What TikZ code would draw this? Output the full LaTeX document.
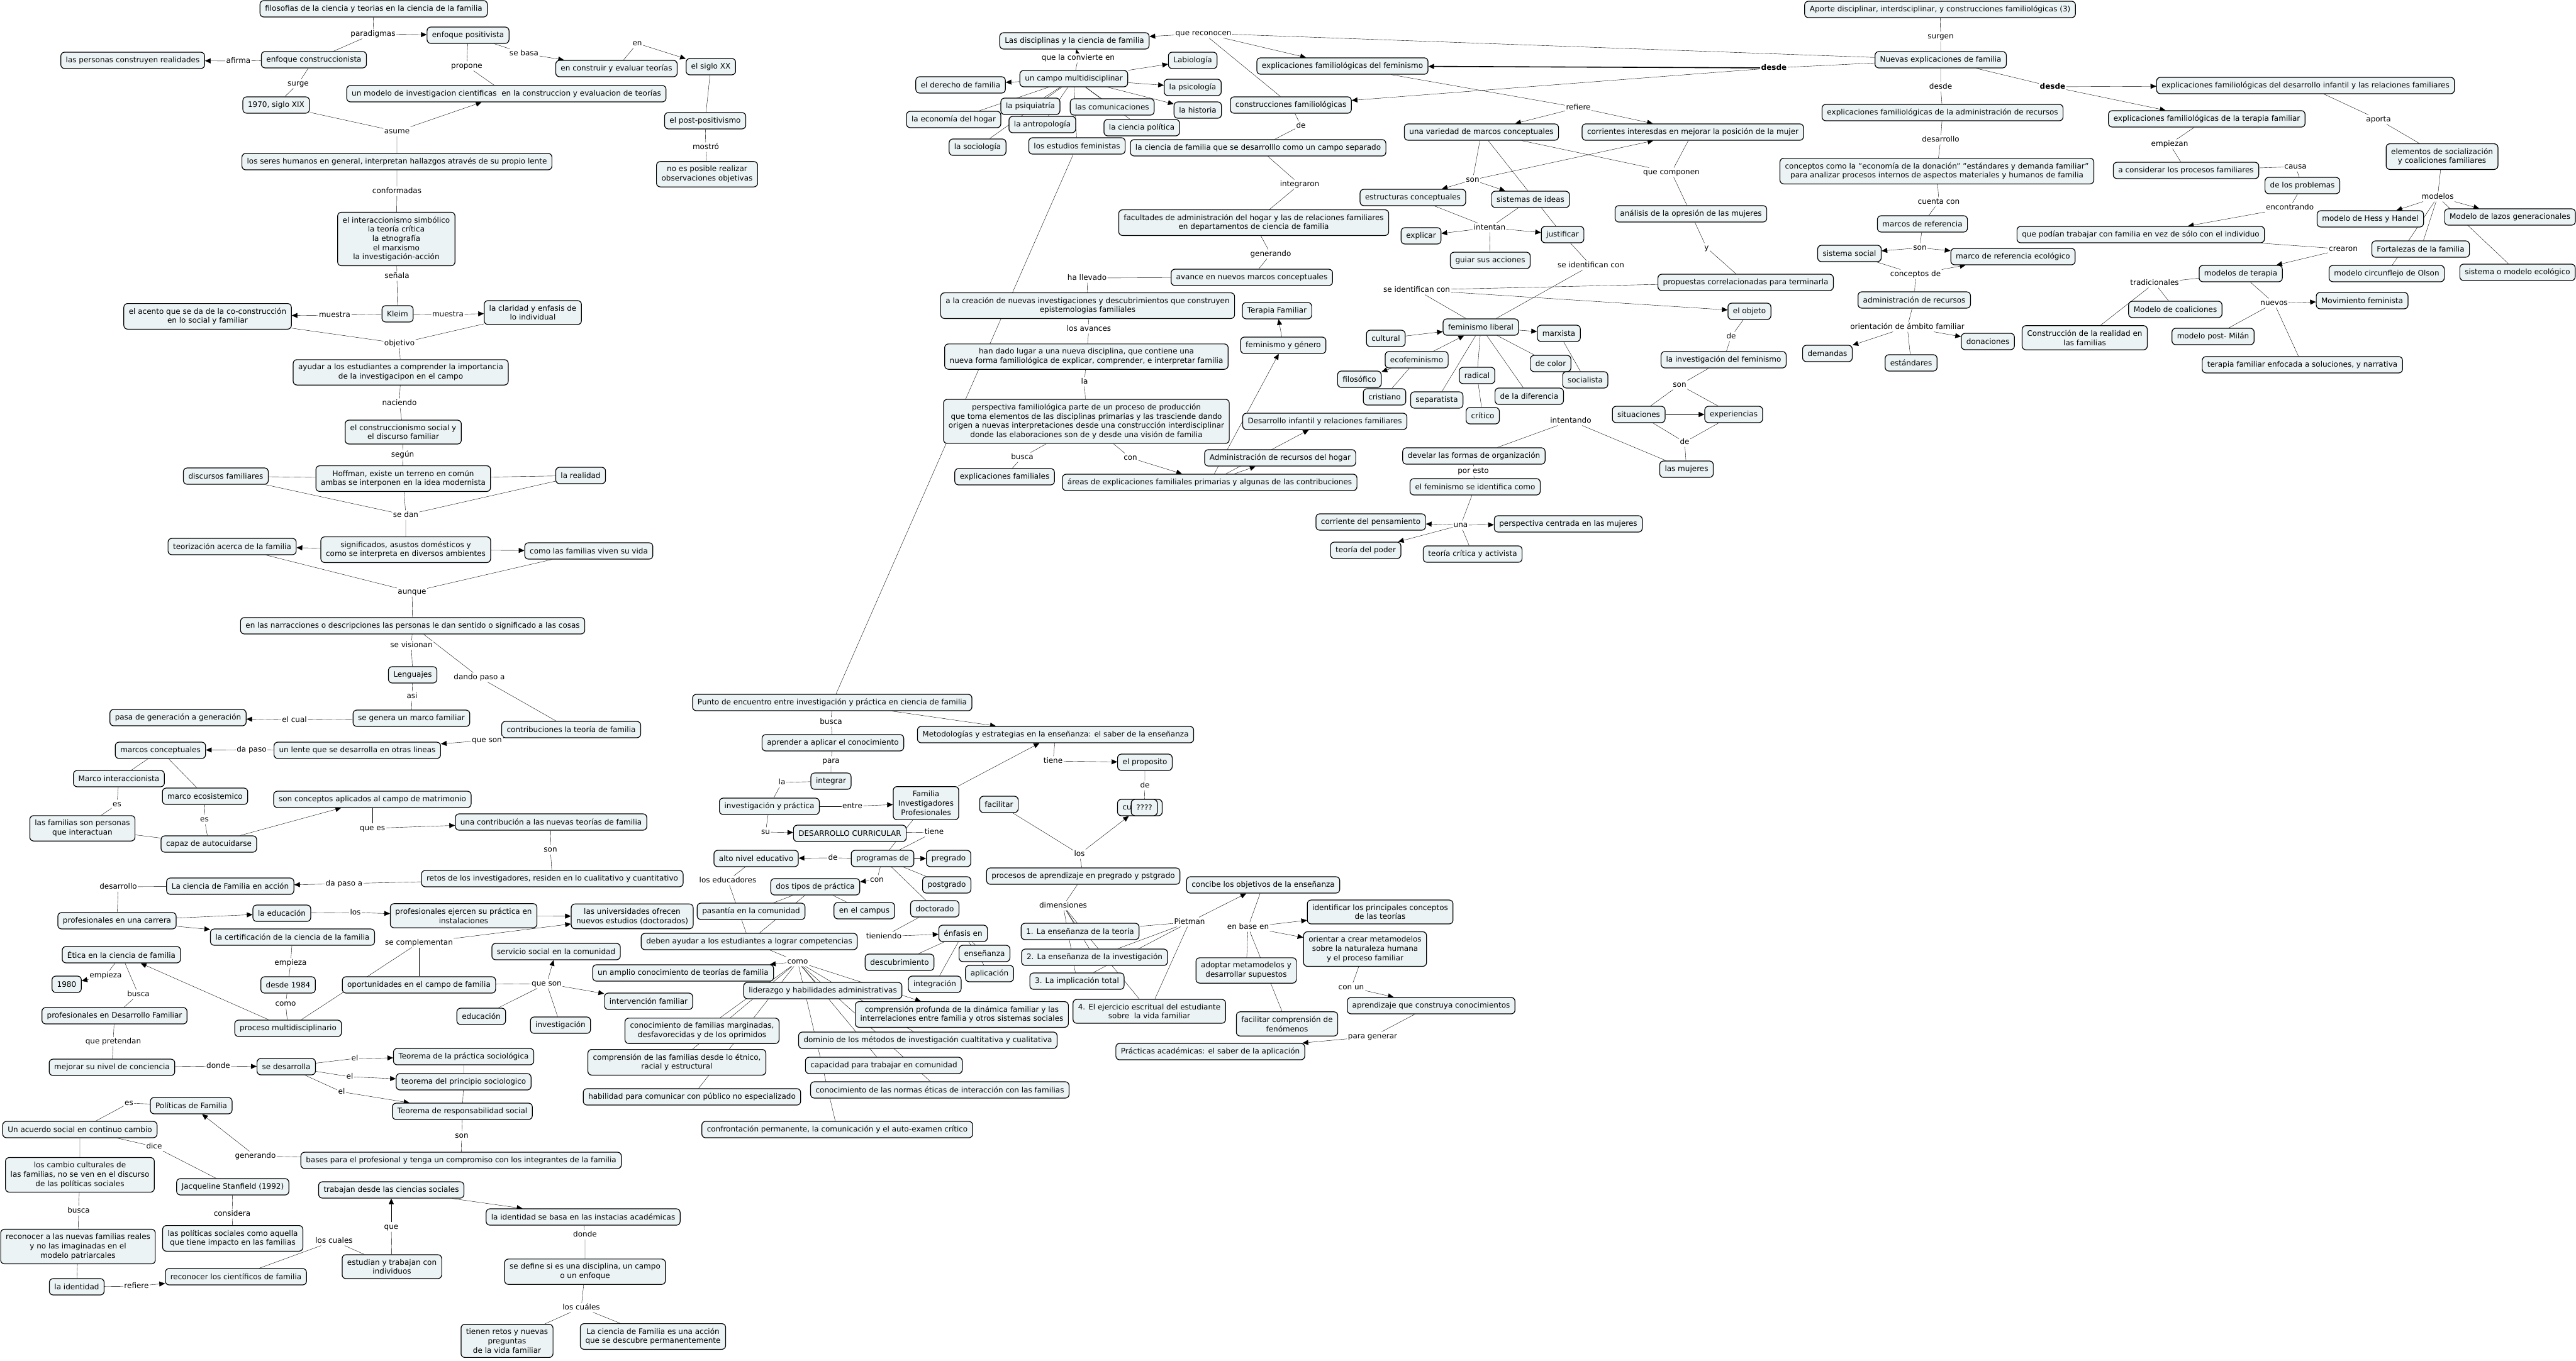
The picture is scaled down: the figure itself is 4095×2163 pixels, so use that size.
\documentclass[tikz,border=0pt]{standalone}
\usepackage{fontspec}
\setmainfont{DejaVu Sans}
\usetikzlibrary{arrows.meta}
\pgfdeclarelayer{background}
\pgfsetlayers{background,main}
\definecolor{cboxfill}{RGB}{236,243,244}

\tikzset{
  cpt/.style={draw=black, line width=1.2pt, fill=cboxfill, rounded corners=6pt,
    inner xsep=8pt, inner ysep=7pt, minimum height=26pt, align=center},
  lnk/.style={fill=white, inner sep=1pt, text height=9pt, text depth=3pt},
  arr/.style={-{Triangle[length=9pt,width=8pt]}}
}

\begin{document}
\begin{tikzpicture}[x=1pt, y=-1pt, font=\fontsize{12}{14.7}\selectfont, line width=1.1pt]
    \useasboundingbox (0,0) rectangle (4095,2163);

    % left column
    \node[cpt] (filos) at (594,14) {filosofias de la ciencia y teorias en la ciencia de la familia};
    \node[lnk] (lparad) at (593,54) {paradigmas};
    \node[cpt] (posit) at (744,56) {enfoque positivista};
    \node[cpt] (constr) at (499,95) {enfoque construccionista};
    \node[lnk] (lafirma) at (379,97) {afirma};
    \node[cpt] (realid) at (211,96) {las personas construyen realidades};
    \node[lnk] (lsurge) at (474,133) {surge};
    \node[cpt] (sxix) at (439,167) {1970, siglo XIX};
    \node[lnk] (lsebasa) at (833,85) {se basa};
    \node[cpt] (evalu) at (980,109) {en construir y evaluar teorías};
    \node[lnk] (lprop) at (742,105) {propone};
    \node[cpt] (modelo) at (805,149) {un modelo de investigacion cientificas\ \ en la construccion y evaluacion de teorías};
    \node[lnk] (len) at (1013,69) {en};
    \node[cpt] (sxx) at (1130,106) {el siglo XX};
    \node[cpt] (postp) at (1121,192) {el post-positivismo};
    \node[lnk] (lmostro) at (1122,234) {mostró};
    \node[cpt] (noobj) at (1124,277) {no es posible realizar\\observaciones objetivas};
    \node[lnk] (lasume) at (631,209) {asume};
    \node[cpt] (seres) at (631,257) {los seres humanos en general, interpretan hallazgos através de su propio lente};
    \node[lnk] (lconf) at (631,304) {conformadas};
    \node[cpt] (interacc) at (630,380) {el interaccionismo simbólico\\la teoría crítica\\la etnografía\\el marxismo\\la investigación-acción};
    \node[lnk] (lsenala) at (631,439) {señala};
    \node[cpt] (kleim) at (632,499) {Kleim};
    \node[lnk] (lmuesA) at (532,501) {muestra};
    \node[cpt] (acento) at (330,503) {el acento que se da de la co-construcción\\en lo social y familiar};
    \node[lnk] (lmuesB) at (712,500) {muestra};
    \node[cpt] (claridad) at (847,497) {la claridad y enfasis de\\lo individual};
    \node[lnk] (lobj) at (635,546) {objetivo};
    \node[cpt] (ayudar) at (637,592) {ayudar a los estudiantes a comprender la importancia\\de la investigacipon en el campo};
    \node[lnk] (lnac) at (635,641) {naciendo};
    \node[cpt] (csocial) at (641,687) {el construccionismo social y\\el discurso familiar};
    \node[lnk] (lsegun) at (640,723) {según};
    \node[cpt] (discur) at (359,757) {discursos familiares};
    \node[cpt] (hoff) at (641,761) {Hoffman, existe un terreno en común\\ambas se interponen en la idea modernista};
    \node[cpt] (realidad) at (923,756) {la realidad};
    \node[lnk] (lsedan) at (645,819) {se dan};
    \node[cpt] (signif) at (645,874) {significados, asustos domésticos y\\como se interpreta en diversos ambientes};
    \node[cpt] (teoriz) at (369,869) {teorización acerca de la familia};
    \node[cpt] (viven) at (936,876) {como las familias viven su vida};
    \node[lnk] (launque) at (655,941) {aunque};
    \node[cpt] (narrac) at (656,995) {en las narracciones o descripciones las personas le dan sentido o significado a las cosas};
    \node[lnk] (lvision) at (654,1026) {se visionan};
    \node[cpt] (leng) at (656,1073) {Lenguajes};
    \node[lnk] (ldando) at (762,1077) {dando paso a};
    \node[lnk] (lasi) at (655,1107) {asi};
    \node[cpt] (genera) at (654,1142) {se genera un marco familiar};
    \node[lnk] (lcual) at (468,1145) {el cual};
    \node[cpt] (pasa) at (283,1141) {pasa de generación a generación};
    \node[cpt] (contrib) at (908,1160) {contribuciones la teoría de familia};
    \node[lnk] (lqueson) at (774,1177) {que son};
    \node[cpt] (lente) at (568,1193) {un lente que se desarrolla en otras lineas};
    \node[lnk] (ldapaso) at (400,1192) {da paso};
    \node[cpt] (marcos) at (255,1193) {marcos conceptuales};
    \node[cpt] (minter) at (189,1238) {Marco interaccionista};
    \node[cpt] (meco) at (326,1266) {marco ecosistemico};
    \node[lnk] (lesA) at (186,1279) {es};
    \node[cpt] (famper) at (131,1317) {las familias son personas\\que interactuan};
    \node[lnk] (lesB) at (325,1303) {es};
    \node[cpt] (autoc) at (332,1342) {capaz de autocuidarse};
    \node[cpt] (aplic) at (592,1271) {son conceptos aplicados al campo de matrimonio};
    \node[lnk] (lquees) at (592,1317) {que es};
    \node[cpt] (nuevas) at (876,1307) {una contribución a las nuevas teorías de familia};
    \node[lnk] (lsonA) at (875,1351) {son};
    \node[cpt] (retos) at (878,1397) {retos de los investigadores, residen en lo cualitativo y cuantitativo};
    \node[lnk] (ldapasoa) at (547,1405) {da paso a};
    \node[cpt] (accion) at (366,1409) {La ciencia de Familia en acción};
    \node[lnk] (ldesarr) at (188,1410) {desarrollo};
    \node[cpt] (carrera) at (186,1464) {profesionales en una carrera};
    \node[cpt] (educ) at (448,1452) {la educación};
    \node[cpt] (certif) at (465,1490) {la certificación de la ciencia de la familia};
    \node[lnk] (llos) at (565,1451) {los};
    \node[cpt] (ejercen) at (737,1456) {profesionales ejercen su práctica en\\instalaciones};
    \node[cpt] (univ) at (1005,1457) {las universidades ofrecen\\nuevos estudios (doctorados)};
    \node[lnk] (lcompl) at (666,1499) {se complementan};
    \node[cpt] (etica) at (193,1518) {Ética en la ciencia de familia};
    \node[lnk] (lempA) at (168,1551) {empieza};
    \node[cpt] (y1980) at (106,1565) {1980};
    \node[lnk] (lbuscaA) at (220,1581) {busca};
    \node[cpt] (profdes) at (182,1615) {profesionales en Desarrollo Familiar};
    \node[lnk] (lempB) at (462,1531) {empieza};
    \node[cpt] (d1984) at (458,1566) {desde 1984};
    \node[lnk] (lcomo) at (454,1596) {como};
    \node[cpt] (procmul) at (458,1635) {proceso multidisciplinario};
    \node[cpt] (oport) at (666,1566) {oportunidades en el campo de familia};
    \node[lnk] (lqueson2) at (869,1564) {que son};
    \node[cpt] (servicio) at (884,1513) {servicio social en la comunidad};
    \node[cpt] (interv) at (1031,1592) {intervención familiar};
    \node[cpt] (educa) at (765,1616) {educación};
    \node[cpt] (investig) at (891,1630) {investigación};
    \node[lnk] (lpret) at (180,1656) {que pretendan};
    \node[cpt] (mejorar) at (178,1697) {mejorar su nivel de conciencia};
    \node[lnk] (ldonde) at (347,1695) {donde};
    \node[cpt] (sedes) at (455,1696) {se desarrolla};
    \node[lnk] (lelA) at (564,1683) {el};
    \node[cpt] (teopra) at (737,1680) {Teorema de la práctica sociológica};
    \node[lnk] (lelB) at (556,1712) {el};
    \node[cpt] (teopri) at (737,1720) {teorema del principio sociologico};
    \node[lnk] (lelC) at (543,1736) {el};
    \node[cpt] (teores) at (735,1767) {Teorema de responsabilidad social};
    \node[lnk] (lsonB) at (734,1806) {son};
    \node[cpt] (bases) at (733,1845) {bases para el profesional y tenga un compromiso con los integrantes de la familia};
    \node[lnk] (lgener) at (406,1838) {generando};
    \node[cpt] (polit) at (304,1758) {Políticas de Familia};
    \node[lnk] (les) at (205,1754) {es};
    \node[cpt] (acuerdo) at (127,1796) {Un acuerdo social en continuo cambio};
    \node[lnk] (ldice) at (245,1823) {dice};
    \node[cpt] (jacq) at (370,1887) {Jacqueline Stanfield (1992)};
    \node[cpt] (cambios) at (127,1868) {los cambio culturales de\\las familias, no se ven en el discurso\\de las políticas sociales};
    \node[lnk] (lbuscaB) at (125,1925) {busca};
    \node[cpt] (reconA) at (124,1982) {reconocer a las nuevas familias reales\\y no las imaginadas en el\\modelo patriarcales};
    \node[cpt] (identA) at (122,2046) {la identidad};
    \node[lnk] (lrefiere) at (217,2045) {refiere};
    \node[cpt] (reconB) at (375,2030) {reconocer los científicos de familia};
    \node[lnk] (lconsid) at (369,1930) {considera};
    \node[cpt] (polsoc) at (370,1969) {las políticas sociales como aquella\\que tiene impacto en las familias};
    \node[lnk] (lcuales) at (531,1973) {los cuales};
    \node[cpt] (estudian) at (623,2014) {estudian y trabajan con\\individuos};
    \node[lnk] (lque) at (622,1951) {que};
    \node[cpt] (trabajan) at (622,1892) {trabajan desde las ciencias sociales};
    \node[cpt] (identB) at (927,1935) {la identidad se basa en las instacias académicas};
    \node[lnk] (ldondeB) at (930,1963) {donde};
    \node[cpt] (define) at (930,2022) {se define si es una disciplina, un campo\\o un enfoque};
    \node[lnk] (lcuales2) at (924,2079) {los cuáles};
    \node[cpt] (tienen) at (806,2132) {tienen retos y nuevas\\preguntas\\de la vida familiar};
    \node[cpt] (accionB) at (1038,2125) {La ciencia de Familia es una acción\\que se descubre permanentemente};

    % middle column
    \node[cpt] (disc) at (1708,65) {Las disciplinas y la ciencia de familia};
    \node[lnk] (lrecon) at (1913,53) {que reconocen};
    \node[lnk] (lconv) at (1714,92) {que la convierte en};
    \node[cpt] (campo) at (1707,125) {un campo multidisciplinar};
    \node[cpt] (biolog) at (1896,96) {Labiología};
    \node[cpt] (derecho) at (1527,135) {el derecho de familia};
    \node[cpt] (psicol) at (1896,139) {la psicología};
    \node[cpt] (historia) at (1904,175) {la historia};
    \node[cpt] (psiq) at (1638,169) {la psiquiatría};
    \node[cpt] (comun) at (1768,170) {las comunicaciones};
    \node[cpt] (econ) at (1516,190) {la economía del hogar};
    \node[cpt] (antrop) at (1657,198) {la antropología};
    \node[cpt] (cpol) at (1815,203) {la ciencia política};
    \node[cpt] (socio) at (1554,234) {la sociología};
    \node[cpt] (femest) at (1712,232) {los estudios feministas};
    \node[cpt] (construc) at (2052,167) {construcciones familiológicas};
    \node[lnk] (lde) at (2068,200) {de};
    \node[cpt] (cfam) at (2000,235) {la ciencia de familia que se desarrolllo como un campo separado};
    \node[cpt] (expfem) at (2134,105) {explicaciones familiológicas del feminismo};
    \node[lnk] (linteg) at (2066,293) {integraron};
    \node[cpt] (facult) at (1993,354) {facultades de administración del hogar y las de relaciones familiares\\en departamentos de ciencia de familia};
    \node[lnk] (lgen) at (2020,404) {generando};
    \node[cpt] (avance) at (1990,441) {avance en nuevos marcos conceptuales};
    \node[lnk] (lllev) at (1728,442) {ha llevado};
    \node[cpt] (creac) at (1729,486) {a la creación de nuevas investigaciones y descubrimientos que construyen\\epistemologias familiales};
    \node[lnk] (lavanc) at (1731,523) {los avances};
    \node[cpt] (handado) at (1727,567) {han dado lugar a una nueva disciplina, que contiene una\\nueva forma familiológica de explicar, comprender, e interpretar familia};
    \node[lnk] (lla) at (1724,607) {la};
    \node[cpt] (perspec) at (1727,670) {perspectiva familiológica parte de un proceso de producción\\que toma elementos de las disciplinas primarias y las trasciende dando\\origen a nuevas interpretaciones desde una construcción interdisciplinar\\donde las elaboraciones son de y desde una visión de familia};
    \node[cpt] (terapia) at (2030,494) {Terapia Familiar};
    \node[cpt] (femgen) at (2040,549) {feminismo y género};
    \node[cpt] (desinf) at (2106,670) {Desarrollo infantil y relaciones familiares};
    \node[cpt] (admhog) at (2035,728) {Administración de recursos del hogar};
    \node[cpt] (areas) at (1923,767) {áreas de explicaciones familiales primarias y algunas de las contribuciones};
    \node[lnk] (lbuscaC) at (1625,727) {busca};
    \node[cpt] (expfam) at (1597,758) {explicaciones familiales};
    \node[lnk] (lcon) at (1797,728) {con};

    \node[cpt] (punto) at (1323,1117) {Punto de encuentro entre investigación y práctica en ciencia de familia};
    \node[lnk] (lbuscaD) at (1321,1148) {busca};
    \node[cpt] (aprender) at (1324,1181) {aprender a aplicar el conocimiento};
    \node[lnk] (lpara) at (1321,1210) {para};
    \node[cpt] (integrar) at (1321,1242) {integrar};
    \node[lnk] (llaB) at (1243,1244) {la};
    \node[cpt] (invprac) at (1223,1282) {investigación y práctica};
    \node[lnk] (lentre) at (1355,1282) {entre};
    \node[cpt] (famip) at (1472,1277) {Familia\\Investigadores\\Profesionales};
    \node[lnk] (lsu) at (1217,1323) {su};
    \node[cpt] (desacur) at (1351,1325) {DESARROLLO CURRICULAR};
    \node[lnk] (ltiene) at (1485,1323) {tiene};
    \node[cpt] (prog) at (1403,1365) {programas de};
    \node[lnk] (ldeB) at (1324,1364) {de};
    \node[cpt] (alto) at (1202,1365) {alto nivel educativo};
    \node[cpt] (pregr) at (1508,1365) {pregrado};
    \node[cpt] (postgr) at (1505,1407) {postgrado};
    \node[cpt] (doct) at (1486,1445) {doctorado};
    \node[lnk] (lconB) at (1394,1399) {con};
    \node[cpt] (dostipos) at (1296,1410) {dos tipos de práctica};
    \node[lnk] (leduc) at (1157,1400) {los educadores};
    \node[cpt] (pasant) at (1194,1449) {pasantía en la comunidad};
    \node[cpt] (campus) at (1374,1448) {en el campus};
    \node[cpt] (metod) at (1678,1168) {Metodologías y estrategias en la enseñanza: el saber de la enseñanza};
    \node[lnk] (ltieneB) at (1674,1210) {tiene};
    \node[cpt] (propos) at (1820,1212) {el proposito};
    \node[lnk] (ldeC) at (1820,1249) {de};
    \node[cpt, minimum width=71pt, text width=55pt, align=left] (cu) at (1812,1284) {cu};
    \node[cpt] (qq) at (1819,1284) {????};
    \node[cpt] (facil) at (1588,1279) {facilitar};
    \node[lnk] (llosB) at (1716,1358) {los};
    \node[cpt] (procap) at (1722,1393) {procesos de aprendizaje en pregrado y pstgrado};
    \node[lnk] (ldimen) at (1690,1440) {dimensiones};
    \node[cpt] (concibe) at (2008,1407) {concibe los objetivos de la enseñanza};
    \node[cpt] (deben) at (1191,1497) {deben ayudar a los estudiantes a lograr competencias};
    \node[lnk] (ltien) at (1405,1489) {tieniendo};
    \node[cpt] (enfasis) at (1531,1484) {énfasis en};
    \node[cpt] (ensen) at (1565,1516) {enseñanza};
    \node[cpt] (aplica) at (1573,1548) {aplicación};
    \node[cpt] (descub) at (1430,1530) {descubrimiento};
    \node[cpt] (integ) at (1486,1565) {integración};
    \node[lnk] (lcomoB) at (1268,1529) {como};
    \node[cpt] (amplio) at (1086,1547) {un amplio conocimiento de teorías de familia};
    \node[cpt] (lider) at (1308,1575) {liderazgo y habilidades administrativas};
    \node[cpt] (comprof) at (1529,1613) {comprensión profunda de la dinámica familiar y las\\interrelaciones entre familia y otros sistemas sociales};
    \node[cpt] (margin) at (1116,1639) {conocimiento de familias marginadas,\\desfavorecidas y de los oprimidos};
    \node[cpt] (dominio) at (1475,1654) {dominio de los métodos de investigación cualtitativa y cualitativa};
    \node[cpt] (etnico) at (1076,1689) {comprensión de las familias desde lo étnico,\\racial y estructural};
    \node[cpt] (capac) at (1405,1694) {capacidad para trabajar en comunidad};
    \node[cpt] (habil) at (1100,1744) {habilidad para comunicar con público no especializado};
    \node[cpt] (normas) at (1494,1733) {conocimiento de las normas éticas de interacción con las familias};
    \node[cpt] (confr) at (1331,1796) {confrontación permanente, la comunicación y el auto-examen crítico};
    \node[cpt] (ens1) at (1717,1481) {1. La enseñanza de la teoría};
    \node[cpt] (ens2) at (1740,1522) {2. La enseñanza de la investigación};
    \node[cpt] (ens3) at (1712,1560) {3. La implicación total};
    \node[cpt] (ens4) at (1827,1608) {4. El ejercicio escritual del estudiante\\sobre\ \ la vida familiar};
    \node[lnk] (lpiet) at (1891,1466) {Pietman};
    \node[lnk] (lbase) at (1984,1474) {en base en};
    \node[cpt] (adoptar) at (1981,1543) {adoptar metamodelos y\\desarrollar supuestos};
    \node[cpt] (faccomp) at (2046,1628) {facilitar comprensión de\\fenómenos};
    \node[cpt] (practicas) at (1924,1672) {Prácticas académicas: el saber de la aplicación};
    \node[cpt] (identif) at (2194,1450) {identificar los principales conceptos\\de las teorías};
    \node[cpt] (orientar) at (2170,1509) {orientar a crear metamodelos\\sobre la naturaleza humana\\y el proceso familiar};
    \node[lnk] (lconun) at (2148,1570) {con un};
    \node[cpt] (aprendiz) at (2275,1599) {aprendizaje que construya conocimientos};
    \node[lnk] (lparagen) at (2182,1648) {para generar};

    % right columns
    \node[cpt] (aporte) at (3084,15) {Aporte disciplinar, interdsciplinar, y construcciones familiológicas (3)};
    \node[lnk] (lsurgen) at (3085,58) {surgen};
    \node[cpt] (nuevasexp) at (3085,95) {Nuevas explicaciones de familia};
    \node[lnk, font=\fontsize{12}{14.7}\selectfont\bfseries] (ldesdeA) at (2820,108) {desde};
    \node[lnk] (lrefiere2) at (2509,171) {refiere};
    \node[cpt] (variedad) at (2355,210) {una variedad de marcos conceptuales};
    \node[cpt] (corrientes) at (2691,210) {corrientes interesdas en mejorar la posición de la mujer};
    \node[lnk] (lsonC) at (2341,286) {son};
    \node[cpt] (estruc) at (2246,314) {estructuras conceptuales};
    \node[cpt] (sistideas) at (2433,317) {sistemas de ideas};
    \node[lnk] (lcomp) at (2657,274) {que componen};
    \node[cpt] (analisis) at (2688,340) {análisis de la opresión de las mujeres};
    \node[lnk] (ly) at (2713,394) {y};
    \node[cpt] (propuestas) at (2775,449) {propuestas correlacionadas para terminarla};
    \node[lnk] (lintentan) at (2368,362) {intentan};
    \node[cpt] (explicar) at (2259,375) {explicar};
    \node[cpt] (justif) at (2484,373) {justificar};
    \node[cpt] (guiar) at (2369,414) {guiar sus acciones};
    \node[lnk] (lidentA) at (2529,422) {se identifican con};
    \node[lnk] (lidentB) at (2252,461) {se identifican con};
    \node[cpt] (objeto) at (2781,495) {el objeto};
    \node[lnk] (ldeD) at (2752,535) {de};
    \node[cpt] (invfem) at (2740,572) {la investigación del feminismo};
    \node[lnk] (lsonD) at (2670,612) {son};
    \node[cpt] (situac) at (2605,659) {situaciones};
    \node[cpt] (experi) at (2756,659) {experiencias};
    \node[lnk] (ldeE) at (2678,703) {de};
    \node[cpt] (mujeres) at (2681,746) {las mujeres};
    \node[lnk] (lintentando) at (2497,669) {intentando};
    \node[cpt] (femlib) at (2354,520) {feminismo liberal};
    \node[cpt] (cultural) at (2203,538) {cultural};
    \node[cpt] (marxista) at (2478,530) {marxista};
    \node[cpt] (ecofem) at (2252,572) {ecofeminismo};
    \node[cpt] (filosof) at (2161,603) {filosófico};
    \node[cpt] (cristiano) at (2201,631) {cristiano};
    \node[cpt] (separat) at (2284,636) {separatista};
    \node[cpt] (radical) at (2348,597) {radical};
    \node[cpt] (critico) at (2357,661) {crítico};
    \node[cpt] (decolor) at (2465,578) {de color};
    \node[cpt] (socialista) at (2520,604) {socialista};
    \node[cpt] (diferencia) at (2431,630) {de la diferencia};
    \node[cpt] (develar) at (2343,725) {develar las formas de organización};
    \node[lnk] (lporesto) at (2342,749) {por esto};
    \node[cpt] (femident) at (2345,774) {el feminismo se identifica como};
    \node[lnk] (luna) at (2322,835) {una};
    \node[cpt] (corrpens) at (2179,830) {corriente del pensamiento};
    \node[cpt] (perscen) at (2493,833) {perspectiva centrada en las mujeres};
    \node[cpt] (teopod) at (2171,875) {teoría del poder};
    \node[cpt] (teocrit) at (2341,881) {teoría crítica y activista};

    \node[cpt] (admrec) at (3088,179) {explicaciones familiológicas de la administración de recursos};
    \node[lnk] (ldesdeB) at (3085,138) {desde};
    \node[lnk] (ldesarrB) at (3085,222) {desarrollo};
    \node[cpt] (conceptos) at (3079,272) {conceptos como la "economía de la donación" "estándares y demanda familiar"\\para analizar procesos internos de aspectos materiales y humanos de familia};
    \node[lnk] (lcuenta) at (3082,321) {cuenta con};
    \node[cpt] (marcoref) at (3056,356) {marcos de referencia};
    \node[lnk] (lsonE) at (3052,394) {son};
    \node[cpt] (sistsoc) at (2940,403) {sistema social};
    \node[cpt] (marcoeco) at (3200,408) {marco de referencia ecológico};
    \node[lnk] (lconcep) at (3045,436) {conceptos de};
    \node[cpt] (admr) at (3043,477) {administración de recursos};
    \node[lnk] (lorient) at (3032,520) {orientación de ámbito familiar};
    \node[cpt] (demandas) at (2905,562) {demandas};
    \node[cpt] (estand) at (3038,577) {estándares};
    \node[cpt] (donac) at (3160,543) {donaciones};
    \node[lnk, font=\fontsize{12}{14.7}\selectfont\bfseries] (ldesdeC) at (3263,138) {desde};
    \node[cpt] (desinfam) at (3665,136) {explicaciones familiológicas del desarrollo infantil y las relaciones familiares};
    \node[cpt] (terfam) at (3508,189) {explicaciones familiológicas de la terapia familiar};
    \node[lnk] (laporta) at (3781,190) {aporta};
    \node[cpt] (elementos) at (3882,249) {elementos de socialización\\y coaliciones familiares};
    \node[lnk] (lmodelos) at (3875,313) {modelos};
    \node[cpt] (hess) at (3768,348) {modelo de Hess y Handel};
    \node[cpt] (lazos) at (3990,345) {Modelo de lazos generacionales};
    \node[cpt] (fortal) at (3848,396) {Fortalezas de la familia};
    \node[cpt] (olson) at (3794,435) {modelo circunflejo de Olson};
    \node[cpt] (siseco) at (4002,433) {sistema o modelo ecológico};
    \node[lnk] (lempiezan) at (3449,229) {empiezan};
    \node[cpt] (considerar) at (3475,271) {a considerar los procesos familiares};
    \node[lnk] (lcausa) at (3649,265) {causa};
    \node[cpt] (problemas) at (3660,295) {de los problemas};
    \node[lnk] (lencontr) at (3640,330) {encontrando};
    \node[cpt] (podian) at (3403,373) {que podían trabajar con familia en vez de sólo con el individuo};
    \node[lnk] (lcrearon) at (3725,396) {crearon};
    \node[cpt] (modter) at (3562,435) {modelos de terapia};
    \node[lnk] (ltrad) at (3425,450) {tradicionales};
    \node[cpt] (coalic) at (3458,492) {Modelo de coaliciones};
    \node[cpt] (constreal) at (3314,537) {Construcción de la realidad en\\las familias};
    \node[lnk] (lnuevos) at (3615,482) {nuevos};
    \node[cpt] (movfem) at (3755,478) {Movimiento feminista};
    \node[cpt] (milan) at (3518,535) {modelo post- Milán};
    \node[cpt] (solucion) at (3660,580) {terapia familiar enfocada a soluciones, y narrativa};

    \begin{pgfonlayer}{background}
    % left column links
    \draw (filos) -- (lparad) -- (constr);
    \draw [arr] (lparad) -- (posit);
    \draw (constr) -- (lafirma);
    \draw [arr] (lafirma) -- (realid);
    \draw (constr) -- (lsurge) -- (sxix);
    \draw (posit) -- (lsebasa);
    \draw [arr] (lsebasa) -- (evalu);
    \draw (posit) -- (lprop) -- (modelo);
    \draw (evalu) -- (len);
    \draw [arr] (len) -- (sxx);
    \draw (sxx) -- (postp) -- (lmostro) -- (noobj);
    \draw (sxix) -- (lasume) -- (seres);
    \draw [arr] (lasume) -- (modelo);
    \draw (seres) -- (lconf) -- (interacc) -- (lsenala) -- (kleim);
    \draw (kleim) -- (lmuesA);
    \draw [arr] (lmuesA) -- (acento);
    \draw (kleim) -- (lmuesB);
    \draw [arr] (lmuesB) -- (claridad);
    \draw (acento) -- (lobj) -- (claridad);
    \draw (lobj) -- (ayudar) -- (lnac) -- (csocial) -- (lsegun) -- (hoff);
    \draw (discur) -- (hoff) -- (realidad);
    \draw (discur) -- (lsedan) -- (realidad);
    \draw (hoff) -- (lsedan) -- (signif);
    \draw [arr] (signif) -- (teoriz);
    \draw [arr] (signif) -- (viven);
    \draw (teoriz) -- (launque) -- (viven);
    \draw (launque) -- (narrac) -- (lvision) -- (leng) -- (lasi) -- (genera) -- (lcual);
    \draw [arr] (lcual) -- (pasa);
    \draw (narrac) -- (ldando) -- (contrib) -- (lqueson);
    \draw [arr] (lqueson) -- (lente);
    \draw (lente) -- (ldapaso);
    \draw [arr] (ldapaso) -- (marcos);
    \draw (marcos) -- (minter) -- (lesA) -- (famper) -- (autoc);
    \draw (marcos) -- (meco) -- (lesB) -- (autoc);
    \draw [arr] (autoc) -- (aplic);
    \draw (aplic) -- (lquees);
    \draw [arr] (lquees) -- (nuevas);
    \draw (nuevas) -- (lsonA) -- (retos) -- (ldapasoa);
    \draw [arr] (ldapasoa) -- (accion);
    \draw (accion) -- (ldesarr) -- (carrera);
    \draw [arr] (carrera) -- (educ);
    \draw [arr] (carrera) -- (certif);
    \draw (educ) -- (llos);
    \draw [arr] (llos) -- (ejercen);
    \draw [arr] (ejercen) -- (univ);
    \draw (oport) -- (lcompl);
    \draw (procmul) -- (lcompl);
    \draw [arr] (lcompl) -- (univ);
    \draw (etica) -- (lempA);
    \draw [arr] (lempA) -- (y1980);
    \draw (etica) -- (lbuscaA) -- (profdes);
    \draw (certif) -- (lempB) -- (d1984) -- (lcomo) -- (procmul);
    \draw [arr] (procmul) -- (etica);
    \draw (oport) -- (lqueson2) -- (educa);
    \draw (lqueson2) -- (investig);
    \draw [arr] (lqueson2) -- (servicio);
    \draw [arr] (lqueson2) -- (interv);
    \draw (profdes) -- (lpret) -- (mejorar) -- (ldonde);
    \draw [arr] (ldonde) -- (sedes);
    \draw (sedes) -- (lelA);
    \draw [arr] (lelA) -- (teopra);
    \draw (sedes) -- (lelB);
    \draw [arr] (lelB) -- (teopri);
    \draw (sedes) -- (lelC);
    \draw [arr] (lelC) -- (teores);
    \draw (teopra) -- (teopri) -- (teores) -- (lsonB) -- (bases) -- (lgener);
    \draw [arr] (lgener) -- (polit);
    \draw (polit) -- (les) -- (acuerdo) -- (ldice) -- (jacq);
    \draw (acuerdo) -- (cambios) -- (lbuscaB) -- (reconA) -- (identA) -- (lrefiere);
    \draw [arr] (lrefiere) -- (reconB);
    \draw (jacq) -- (lconsid) -- (polsoc);
    \draw (reconB) -- (lcuales) -- (estudian) -- (lque);
    \draw [arr] (lque) -- (trabajan);
    \draw [arr] (trabajan) -- (identB);
    \draw (identB) -- (ldondeB) -- (define) -- (lcuales2) -- (tienen);
    \draw (lcuales2) -- (accionB);

    % middle links
    \draw [arr] (lrecon) -- (disc);
    \draw (lrecon) -- (nuevasexp);
    \draw [arr] (lrecon) -- (expfem);
    \draw (lrecon) -- (construc);
    \draw (campo) -- (lconv);
    \draw [arr] (lconv) -- (disc);
    \draw [arr] (campo) -- (biolog);
    \draw [arr] (campo) -- (derecho);
    \draw [arr] (campo) -- (psicol);
    \draw [arr] (campo) -- (historia);
    \foreach \d in {psiq,comun,econ,antrop,cpol,socio,femest}
        \draw (campo) -- (\d);
    \draw (construc) -- (lde) -- (cfam) -- (linteg) -- (facult) -- (lgen) -- (avance) -- (lllev) -- (creac);
    \draw (creac) -- (lavanc) -- (handado) -- (lla) -- (perspec);
    \draw (perspec) -- (lbuscaC) -- (expfam);
    \draw (perspec) -- (lcon);
    \draw [arr] (lcon) -- (areas);
    \draw [arr] (areas) -- (admhog);
    \draw [arr] (areas) -- (desinf);
    \draw [arr] (areas) -- (femgen);
    \draw [arr] (femgen) -- (terapia);
    \draw (femest) -- (punto);
    \draw (punto) -- (lbuscaD) -- (aprender) -- (lpara) -- (integrar) -- (llaB) -- (invprac);
    \draw (invprac) -- (lentre);
    \draw [arr] (lentre) -- (famip);
    \draw (invprac) -- (lsu);
    \draw [arr] (lsu) -- (desacur);
    \draw (desacur) -- (ltiene) -- (prog);
    \draw (famip) -- (prog);
    \draw (prog) -- (ldeB);
    \draw [arr] (ldeB) -- (alto);
    \draw [arr] (prog) -- (pregr);
    \draw (prog) -- (postgr);
    \draw (prog) -- (doct);
    \draw (prog) -- (lconB);
    \draw [arr] (lconB) -- (dostipos);
    \draw (alto) -- (leduc) -- (deben);
    \draw (dostipos) -- (pasant);
    \draw (dostipos) -- (campus);
    \draw (dostipos) -- (deben);
    \draw [arr] (punto) -- (metod);
    \draw [arr] (famip) -- (metod);
    \draw (metod) -- (ltieneB);
    \draw [arr] (ltieneB) -- (propos);
    \draw (propos) -- (ldeC) -- (qq);
    \draw (facil) -- (llosB) -- (procap);
    \draw [arr] (llosB) -- (cu);
    \draw (procap) -- (ldimen);
    \foreach \e in {ens1,ens2,ens3,ens4} {
        \draw (ldimen) -- (\e);
        \draw (lpiet) -- (\e);
    }
    \draw [arr] (lpiet) -- (concibe);
    \draw (concibe) -- (lbase) -- (adoptar);
    \draw (lbase) -- (faccomp);
    \draw [arr] (lbase) -- (identif);
    \draw [arr] (lbase) -- (orientar);
    \draw (orientar) -- (lconun);
    \draw [arr] (lconun) -- (aprendiz);
    \draw (aprendiz) -- (lparagen);
    \draw [arr] (lparagen) -- (practicas);
    \draw (doct) -- (ltien);
    \draw [arr] (ltien) -- (enfasis);
    \foreach \e in {ensen,aplica,descub,integ}
        \draw (enfasis) -- (\e);
    \draw (deben) -- (lcomoB);
    \draw [arr] (lcomoB) -- (amplio);
    \draw [arr] (lcomoB) -- (comprof);
    \foreach \c in {lider,margin,etnico,habil,dominio,capac,normas,confr}
        \draw (lcomoB) -- (\c);

    % right links
    \draw (aporte) -- (lsurgen) -- (nuevasexp);
    \draw (nuevasexp) -- (ldesdeA);
    \draw [arr, line width=1.6pt] (ldesdeA) -- (expfem);
    \draw [arr] (ldesdeA) -- (construc);
    \draw (nuevasexp) -- (ldesdeB) -- (admrec);
    \draw (nuevasexp) -- (ldesdeC);
    \draw [arr] (ldesdeC) -- (desinfam);
    \draw [arr] (ldesdeC) -- (terfam);
    \draw (expfem) -- (lrefiere2);
    \draw [arr] (lrefiere2) -- (variedad);
    \draw [arr] (lrefiere2) -- (corrientes);
    \draw (variedad) -- (lsonC);
    \draw [arr] (lsonC) -- (estruc);
    \draw [arr] (lsonC) -- (sistideas);
    \draw [arr] (lsonC) -- (corrientes);
    \draw (variedad) -- (justif);
    \draw (variedad) -- (lcomp) -- (corrientes);
    \draw (lcomp) -- (analisis) -- (ly) -- (propuestas);
    \draw (estruc) -- (lintentan) -- (sistideas);
    \draw [arr] (lintentan) -- (explicar);
    \draw [arr] (lintentan) -- (justif);
    \draw (lintentan) -- (guiar);
    \draw (justif) -- (lidentA) -- (femlib);
    \draw (propuestas) -- (lidentB) -- (femlib);
    \draw [arr] (lidentB) -- (objeto);
    \draw (objeto) -- (ldeD) -- (invfem) -- (lsonD) -- (situac);
    \draw (lsonD) -- (experi);
    \draw [arr] (situac) -- (experi);
    \draw (situac) -- (ldeE) -- (experi);
    \draw (ldeE) -- (mujeres) -- (lintentando) -- (develar) -- (lporesto) -- (femident) -- (luna);
    \draw [arr] (luna) -- (corrpens);
    \draw [arr] (luna) -- (teopod);
    \draw [arr] (luna) -- (perscen);
    \draw (luna) -- (teocrit);
    \draw [arr] (cultural) -- (femlib);
    \draw [arr] (ecofem) -- (femlib);
    \draw [arr] (femlib) -- (marxista);
    \foreach \f in {decolor,diferencia,radical,separat}
        \draw (femlib) -- (\f);
    \draw (marxista) -- (socialista);
    \draw (radical) -- (critico);
    \draw [arr] (ecofem) -- (filosof);
    \draw (ecofem) -- (cristiano);

    \draw (admrec) -- (ldesarrB) -- (conceptos) -- (lcuenta) -- (marcoref) -- (lsonE);
    \draw [arr] (lsonE) -- (sistsoc);
    \draw [arr] (lsonE) -- (marcoeco);
    \draw (sistsoc) -- (lconcep) -- (admr) -- (lorient);
    \draw [arr] (lconcep) -- (marcoeco);
    \draw [arr] (lorient) -- (demandas);
    \draw [arr] (lorient) -- (donac);
    \draw (lorient) -- (estand);

    \draw (desinfam) -- (laporta) -- (elementos) -- (lmodelos);
    \draw [arr] (lmodelos) -- (hess);
    \draw [arr] (lmodelos) -- (lazos);
    \foreach \m in {fortal,olson,siseco}
        \draw (lmodelos) -- (\m);
    \draw (terfam) -- (lempiezan) -- (considerar) -- (lcausa) -- (problemas) -- (lencontr);
    \draw [arr] (lencontr) -- (podian);
    \draw (podian) -- (lcrearon);
    \draw [arr] (lcrearon) -- (modter);
    \draw (modter) -- (ltrad) -- (coalic);
    \draw (ltrad) -- (constreal);
    \draw (modter) -- (lnuevos);
    \draw [arr] (lnuevos) -- (movfem);
    \draw (lnuevos) -- (milan);
    \draw (lnuevos) -- (solucion);
    \end{pgfonlayer}
\end{tikzpicture}
\end{document}
